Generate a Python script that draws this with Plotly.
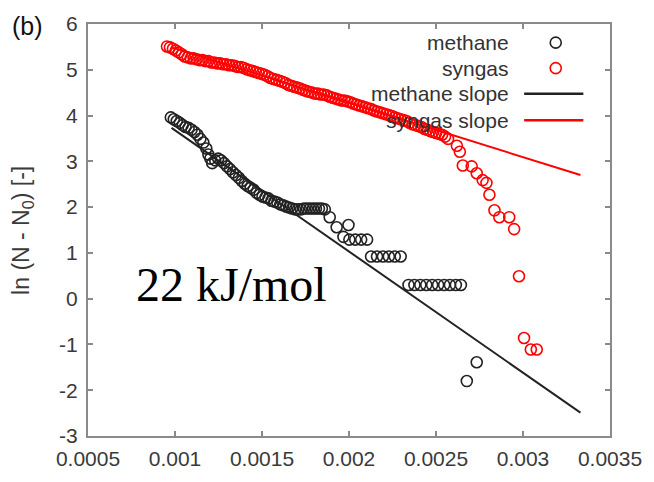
import plotly.graph_objects as go

# ---- data -------------------------------------------------------------
methane_x = [0.000976, 0.000993, 0.001010, 0.001027, 0.001044, 0.001061, 0.001078, 0.001095,
             0.001112, 0.001129, 0.001146, 0.001163, 0.001180, 0.001192, 0.001203, 0.001214,
             0.001231, 0.001248, 0.001265, 0.001282, 0.001299, 0.001316, 0.001333, 0.001350,
             0.001367, 0.001384, 0.001401, 0.001418, 0.001435, 0.001452, 0.001469, 0.001486,
             0.001503, 0.001520, 0.001537, 0.001554, 0.001571, 0.001588, 0.001605, 0.001622,
             0.001639, 0.001656, 0.001673, 0.001690, 0.001707, 0.001724, 0.001741, 0.001758,
             0.001776, 0.001793, 0.001810, 0.001827, 0.001844, 0.001861, 0.001889, 0.001929,
             0.001997, 0.001968, 0.002002, 0.002036, 0.002070, 0.002104, 0.002127, 0.002161,
             0.002195, 0.002229, 0.002263, 0.002297, 0.002342, 0.002376, 0.002410, 0.002444,
             0.002478, 0.002512, 0.002547, 0.002580, 0.002614, 0.002643, 0.002677, 0.002734]
methane_y = [3.96, 3.92, 3.88, 3.84, 3.79, 3.75, 3.73, 3.69,
             3.64, 3.58, 3.49, 3.41, 3.28, 3.15, 3.06, 2.96,
             3.02, 3.06, 3.02, 2.96, 2.89, 2.83, 2.76, 2.70,
             2.64, 2.57, 2.51, 2.46, 2.42, 2.38, 2.31, 2.27,
             2.23, 2.21, 2.19, 2.14, 2.12, 2.10, 2.06, 2.04,
             2.01, 1.99, 1.97, 1.95, 1.95, 1.95, 1.97, 1.97,
             1.97, 1.97, 1.97, 1.97, 1.97, 1.95, 1.78, 1.56,
             1.61, 1.35, 1.29, 1.29, 1.29, 1.29, 0.92, 0.92,
             0.92, 0.92, 0.92, 0.92, 0.30, 0.30, 0.30, 0.30,
             0.30, 0.30, 0.30, 0.30, 0.30, 0.30, -1.80, -1.39]

syngas_x = [0.000954, 0.000971, 0.000988, 0.001005, 0.001022, 0.001039, 0.001056, 0.001073,
            0.001090, 0.001107, 0.001124, 0.001141, 0.001158, 0.001175, 0.001192, 0.001209,
            0.001226, 0.001243, 0.001260, 0.001277, 0.001294, 0.001311, 0.001328, 0.001345,
            0.001362, 0.001379, 0.001396, 0.001413, 0.001430, 0.001447, 0.001464, 0.001481,
            0.001498, 0.001515, 0.001532, 0.001549, 0.001566, 0.001583, 0.001600, 0.001617,
            0.001634, 0.001651, 0.001668, 0.001685, 0.001702, 0.001719, 0.001736, 0.001753,
            0.001770, 0.001787, 0.001804, 0.001821, 0.001838, 0.001855, 0.001872, 0.001889,
            0.001906, 0.001923, 0.001940, 0.001957, 0.001974, 0.001991, 0.002008, 0.002025,
            0.002042, 0.002059, 0.002076, 0.002093, 0.002110, 0.002127, 0.002144, 0.002161,
            0.002178, 0.002195, 0.002212, 0.002229, 0.002246, 0.002263, 0.002280, 0.002297,
            0.002314, 0.002331, 0.002348, 0.002365, 0.002382, 0.002399, 0.002416, 0.002433,
            0.002450, 0.002467, 0.002484, 0.002501, 0.002518, 0.002535, 0.002552, 0.002569,
            0.002620, 0.002637, 0.002654, 0.002705, 0.002734, 0.002768, 0.002790, 0.002807,
            0.002836, 0.002864, 0.002921, 0.002949, 0.002977, 0.003006, 0.003045, 0.003079]
syngas_y = [5.51, 5.49, 5.46, 5.42, 5.38, 5.34, 5.29, 5.27,
            5.25, 5.25, 5.23, 5.21, 5.21, 5.19, 5.19, 5.16,
            5.16, 5.14, 5.14, 5.12, 5.12, 5.10, 5.10, 5.08,
            5.06, 5.06, 5.04, 5.01, 4.99, 4.97, 4.95, 4.93,
            4.91, 4.89, 4.86, 4.82, 4.80, 4.78, 4.76, 4.74,
            4.71, 4.67, 4.65, 4.63, 4.61, 4.59, 4.56, 4.54,
            4.52, 4.50, 4.48, 4.48, 4.46, 4.46, 4.44, 4.41,
            4.39, 4.37, 4.35, 4.33, 4.33, 4.31, 4.29, 4.26,
            4.24, 4.22, 4.20, 4.18, 4.16, 4.14, 4.11, 4.09,
            4.07, 4.05, 4.03, 4.01, 3.99, 3.96, 3.94, 3.92,
            3.90, 3.88, 3.84, 3.81, 3.79, 3.77, 3.75, 3.71,
            3.69, 3.66, 3.64, 3.62, 3.60, 3.58, 3.54, 3.49,
            3.34, 3.21, 2.91, 2.89, 2.74, 2.59, 2.53, 2.27,
            1.93, 1.78, 1.78, 1.52, 0.49, -0.86, -1.11, -1.11]

methane_slope_x = [0.00098, 0.00333]
methane_slope_y = [3.73, -2.49]
syngas_slope_x = [0.00098, 0.00333]
syngas_slope_y = [5.49, 2.70]

x_tick_vals = [0.0005, 0.001, 0.0015, 0.002, 0.0025, 0.003, 0.0035]
x_tick_labels = ["0.0005", "0.001", "0.0015", "0.002", "0.0025", "0.003", "0.0035"]
y_tick_vals = [-3, -2, -1, 0, 1, 2, 3, 4, 5, 6]
y_tick_labels = ["-3", "-2", "-1", "0", "1", "2", "3", "4", "5", "6"]

series_names = ["methane", "syngas", "methane slope", "syngas slope"]
series_colors = ["#222222", "#ff0000", "#222222", "#ff0000"]
series_kinds = ["marker", "marker", "line", "line"]

# ---- figure -----------------------------------------------------------
W, H = 654, 482
ML, MR, MT, MB = 88, 37, 23, 39
PW, PH = W - ML - MR, H - MT - MB

fig = go.Figure()
fig.add_trace(go.Scatter(x=methane_x, y=methane_y, mode="markers", name=series_names[0],
                         marker=dict(symbol="circle-open", size=11, color=series_colors[0],
                                     line=dict(width=1.6))))
fig.add_trace(go.Scatter(x=syngas_x, y=syngas_y, mode="markers", name=series_names[1],
                         marker=dict(symbol="circle-open", size=11, color=series_colors[1],
                                     line=dict(width=1.6))))
fig.add_trace(go.Scatter(x=methane_slope_x, y=methane_slope_y, mode="lines", name=series_names[2],
                         line=dict(color=series_colors[2], width=2)))
fig.add_trace(go.Scatter(x=syngas_slope_x, y=syngas_slope_y, mode="lines", name=series_names[3],
                         line=dict(color=series_colors[3], width=2)))

axis_common = dict(showline=True, linecolor="#8a8a8a", linewidth=2, mirror="allticks",
                   ticks="inside", ticklen=5, tickwidth=1.5, tickcolor="#8a8a8a",
                   showgrid=False, zeroline=False,
                   tickfont=dict(family="Liberation Sans, Arial, sans-serif", size=21, color="#3a3a3a"))

fig.update_layout(
    width=W, height=H, autosize=False,
    margin=dict(l=ML, r=MR, t=MT, b=MB, pad=0),
    paper_bgcolor="white", plot_bgcolor="white",
    showlegend=False,
    xaxis=dict(range=[0.0005, 0.0035], tickvals=x_tick_vals, ticktext=x_tick_labels,
               ticklabelstandoff=3, **axis_common),
    yaxis=dict(range=[-3, 6], tickvals=y_tick_vals, ticktext=y_tick_labels,
               ticklabelstandoff=4, **axis_common),
)

# Key in the top-right corner: right-aligned names with their glyph on the right
key_rows_px = [42, 68, 94, 121]
text_right_px = 517
glyph_px = 562
line_px = (530, 590)
annotations = []
shapes = []
for name, color, kind, row in zip(series_names, series_colors, series_kinds, key_rows_px):
    yp = (H - MB - row) / PH
    annotations.append(dict(xref="paper", yref="paper", x=(text_right_px - ML) / PW, y=yp,
                            xanchor="right", yanchor="middle", showarrow=False, text=name,
                            font=dict(family="Liberation Sans, Arial, sans-serif", size=21,
                                      color="#333333")))
    if kind == "marker":
        shapes.append(dict(type="circle", xref="paper", yref="paper",
                           xsizemode="pixel", ysizemode="pixel",
                           xanchor=(glyph_px - ML) / PW, yanchor=yp,
                           x0=-5.5, x1=5.5, y0=-5.5, y1=5.5,
                           line=dict(color=color, width=1.6)))
    else:
        shapes.append(dict(type="line", xref="paper", yref="paper",
                           x0=(line_px[0] - ML) / PW, x1=(line_px[1] - ML) / PW, y0=yp, y1=yp,
                           line=dict(color=color, width=2.5)))

# axis title
annotations.append(dict(xref="paper", yref="paper", x=(21 - ML) / PW, y=(H - MB - 233) / PH,
                        xanchor="center", yanchor="middle", textangle=-90, showarrow=False,
                        text="ln (N - N<sub>0</sub>) [-]",
                        font=dict(family="Liberation Sans, Arial, sans-serif", size=23,
                                  color="#3a3a3a")))
# panel label
annotations.append(dict(xref="paper", yref="paper", x=(9 - ML) / PW, y=(H - MB - 25) / PH,
                        xanchor="left", yanchor="middle", showarrow=False, text="(b)",
                        font=dict(family="Liberation Sans, Arial, sans-serif", size=25,
                                  color="#111111")))
# activation energy label
annotations.append(dict(xref="paper", yref="paper", x=(135 - ML) / PW, y=(H - MB - 289) / PH,
                        xanchor="left", yanchor="middle", showarrow=False, text="22 kJ/mol",
                        font=dict(family="Liberation Serif, Times New Roman, serif", size=48,
                                  color="black")))

fig.update_layout(annotations=annotations, shapes=shapes)
fig.write_html("out.html")
